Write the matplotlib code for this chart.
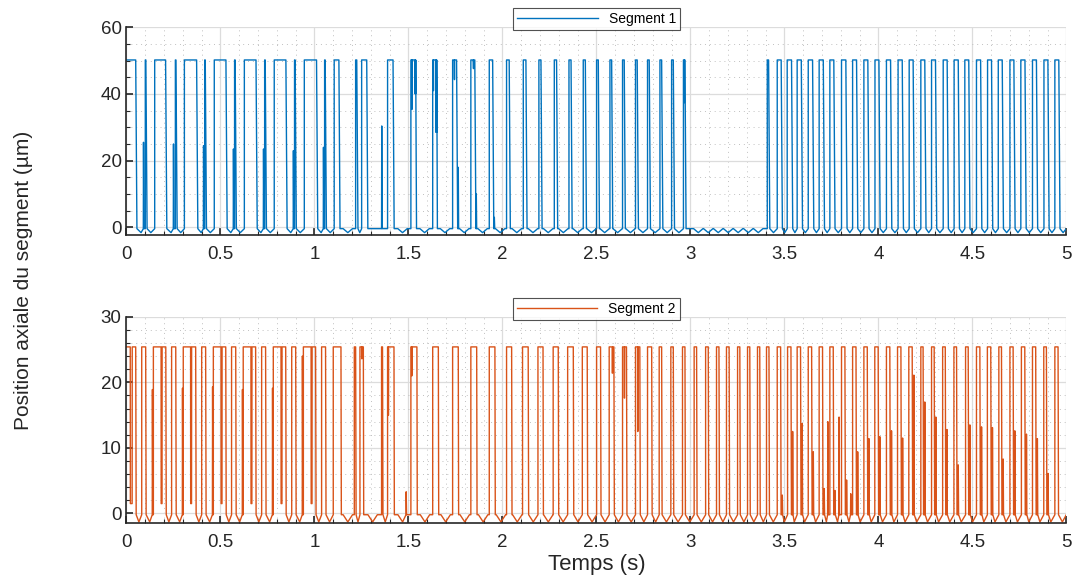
import numpy as np
import matplotlib.pyplot as plt
from matplotlib.ticker import MultipleLocator

plt.rcParams['font.family'] = ['Liberation Sans', 'DejaVu Sans']

# ---- Segment 1 ----
seg1_on = [0.000, 0.100, 0.150, 0.260, 0.308, 0.416, 0.467, 0.575, 0.627, 0.735,
           0.786, 0.894, 0.946, 1.054, 1.105, 1.219, 1.251, 1.389, 1.513, 1.629,
           1.735, 1.832, 1.930, 2.022, 2.111, 2.194, 2.276, 2.354, 2.430, 2.501,
           2.572, 2.639, 2.708, 2.772, 2.838, 2.900, 2.963, 3.409, 3.462, 3.515,
           3.568, 3.627, 3.685, 3.742, 3.804, 3.863, 3.923, 3.982, 4.043, 4.105,
           4.164, 4.226, 4.283, 4.345, 4.403, 4.460, 4.522, 4.581, 4.638, 4.700,
           4.758, 4.820, 4.881, 4.939]
seg1_off = [0.049, 0.103, 0.208, 0.263, 0.373, 0.419, 0.529, 0.578, 0.689, 0.738,
            0.848, 0.897, 1.011, 1.057, 1.130, 1.225, 1.278, 1.418, 1.537, 1.648,
            1.756, 1.853, 1.948, 2.036, 2.125, 2.205, 2.288, 2.365, 2.441, 2.510,
            2.581, 2.648, 2.717, 2.781, 2.847, 2.909, 2.971, 3.416, 3.483, 3.538,
            3.590, 3.650, 3.707, 3.763, 3.827, 3.884, 3.944, 4.003, 4.065, 4.127,
            4.185, 4.247, 4.304, 4.366, 4.425, 4.481, 4.544, 4.602, 4.659, 4.721,
            4.780, 4.841, 4.902, 4.960]
seg1_spike_t = [0.0895, 0.249, 0.409, 0.568, 0.728, 0.887, 1.047, 1.357, 1.764, 1.860, 1.956]
seg1_spike_y = [25.5, 25.0, 24.5, 23.5, 23.5, 23.0, 24.0, 30.4, 18.0, 10.0, 3.0]
seg1_notch_t = [1.518, 1.535, 1.632, 1.646, 1.744, 1.845, 2.966]
seg1_notch_y = [35.4, 40.0, 41.0, 28.5, 44.3, 47.6, 37.4]
seg1_notch_w = [0.001, 0.003, 0.001, 0.004, 0.001, 0.001, 0.002]
seg1_quiet_dips = [3.042, 3.095, 3.148, 3.201, 3.254, 3.308, 3.361]

# ---- Segment 2 ----
seg2_on = [0.000, 0.081, 0.143, 0.240, 0.302, 0.400, 0.462, 0.559, 0.621, 0.719,
           0.781, 0.879, 0.941, 1.038, 1.100, 1.212, 1.242, 1.357, 1.389, 1.513,
           1.629, 1.735, 1.832, 1.930, 2.022, 2.107, 2.189, 2.270, 2.347, 2.425,
           2.501, 2.568, 2.639, 2.708, 2.772, 2.834, 2.896, 2.958, 3.020, 3.081,
           3.139, 3.192, 3.251, 3.304, 3.357, 3.405, 3.462, 3.517, 3.568, 3.627,
           3.685, 3.742, 3.804, 3.863, 3.923, 3.981, 4.043, 4.102, 4.162, 4.226,
           4.283, 4.342, 4.402, 4.464, 4.522, 4.580, 4.641, 4.700, 4.761, 4.820,
           4.880, 4.939]
seg2_off = [0.049, 0.102, 0.209, 0.262, 0.368, 0.421, 0.528, 0.581, 0.687, 0.740,
            0.847, 0.900, 1.006, 1.059, 1.141, 1.219, 1.260, 1.362, 1.423, 1.545,
            1.659, 1.765, 1.863, 1.960, 2.049, 2.137, 2.216, 2.297, 2.377, 2.451,
            2.522, 2.593, 2.660, 2.731, 2.794, 2.847, 2.909, 2.971, 3.033, 3.095,
            3.152, 3.206, 3.263, 3.316, 3.369, 3.418, 3.480, 3.535, 3.586, 3.645,
            3.703, 3.760, 3.822, 3.881, 3.941, 3.999, 4.061, 4.120, 4.180, 4.238,
            4.297, 4.356, 4.416, 4.478, 4.540, 4.598, 4.655, 4.717, 4.779, 4.837,
            4.894, 4.956]
seg2_spike_t = [0.137, 0.297, 0.457, 0.616, 0.776, 0.935, 1.487,
                3.488, 3.543, 3.594, 3.653, 3.711, 3.730, 3.768, 3.790, 3.830, 3.852,
                3.889, 3.949, 4.007, 4.069, 4.128, 4.188, 4.246, 4.305, 4.364, 4.424,
                4.486, 4.548, 4.606, 4.663, 4.725, 4.787, 4.845, 4.902]
seg2_spike_y = [18.9, 19.1, 19.3, 18.9, 19.1, 24.0, 3.3,
                2.8, 12.5, 13.7, 9.4, 3.8, 14.0, 3.5, 14.7, 5.1, 3.0,
                9.4, 11.4, 11.7, 12.6, 11.5, 21.1, 17.0, 14.7, 12.8, 7.4,
                13.5, 13.2, 13.1, 8.3, 12.6, 12.1, 11.4, 6.1]
seg2_notch_t = [0.020, 0.184, 0.341, 0.503, 0.662, 0.822, 0.982, 1.251, 1.392, 1.517,
                2.584, 2.648, 2.719]
seg2_notch_y = [1.5, 1.5, 1.5, 1.5, 1.5, 1.5, 1.5, 23.6, 15.0, 21.0, 21.4, 17.6, 12.5]
seg2_notch_w = [0.010, 0.005, 0.005, 0.005, 0.005, 0.005, 0.005, 0.002, 0.002, 0.002,
                0.002, 0.002, 0.002]


def waveform(on, off, high, low, dip, fall, sp_t, sp_y, nt_t, nt_y, nt_w, quiet=()):
    pts = []
    for a, b in zip(on, off):
        pts += [(a, low), (a, high), (b, high), (b + fall, low)]
    if on[0] == 0:
        pts = pts[1:]
    gaps = list(zip([b + fall for b in off[:-1]], on[1:])) + [(off[-1] + fall, 5.0)]
    for g0, g1 in gaps:
        if g1 - g0 < 0.1:
            w = min(0.025, (g1 - g0) / 2 - 0.0005)
            m = (g0 + g1) / 2
            pts += [(m - w, low), (m, dip), (m + w, low)]
    for t in quiet:
        pts += [(t - 0.025, low), (t, dip), (t + 0.025, low)]
    for t, y in zip(sp_t, sp_y):
        pts += [(t, low), (t + 0.001, y), (t + 0.003, low)]
    for t, y, w in zip(nt_t, nt_y, nt_w):
        pts += [(t, high), (t + 0.0005, y), (t + w, y), (t + w + 0.0005, high)]
    pts.append((5.0, low))
    pts.sort(key=lambda p: p[0])
    return np.array([p[0] for p in pts]), np.array([p[1] for p in pts])


t1, y1 = waveform(seg1_on, seg1_off, 50.2, -0.4, -1.6, 0.006,
                  seg1_spike_t, seg1_spike_y, seg1_notch_t, seg1_notch_y, seg1_notch_w,
                  seg1_quiet_dips)
t2, y2 = waveform(seg2_on, seg2_off, 25.4, -0.2, -1.3, 0.002,
                  seg2_spike_t, seg2_spike_y, seg2_notch_t, seg2_notch_y, seg2_notch_w)

fig = plt.figure(figsize=(10.72, 5.87), dpi=100)
ax1 = fig.add_axes([0.118, 0.5997, 0.8767, 0.3538])
ax2 = fig.add_axes([0.118, 0.1095, 0.8767, 0.3509])

ax1.plot(t1, y1, color="#0072BD", lw=1.0, label="Segment 1")
ax2.plot(t2, y2, color="#D95319", lw=1.0, label="Segment 2")

for ax, ylim, ymaj, ymin in [(ax1, (-2.3, 60), 20, 5), (ax2, (-1.42, 30), 10, 2)]:
    ax.set_xlim(0, 5)
    ax.set_ylim(*ylim)
    ax.xaxis.set_major_locator(MultipleLocator(0.5))
    ax.xaxis.set_minor_locator(MultipleLocator(0.1))
    ax.yaxis.set_major_locator(MultipleLocator(ymaj))
    ax.yaxis.set_minor_locator(MultipleLocator(ymin))
    ax.set_xticks(np.arange(0, 5.01, 0.5))
    ax.set_xticklabels(["0", "0.5", "1", "1.5", "2", "2.5", "3", "3.5", "4", "4.5", "5"])
    ax.grid(which="major", color="#dcdcdc", lw=0.9)
    ax.grid(which="minor", color="#c0c0c0", lw=0.7, linestyle=(0, (1, 4)))
    ax.set_axisbelow(True)
    for s in ["top", "right"]:
        ax.spines[s].set_visible(False)
    for s in ["left", "bottom"]:
        ax.spines[s].set_color("#262626")
        ax.spines[s].set_linewidth(1.2)
    ax.tick_params(which="both", direction="in", colors="#262626", labelsize=13.5)
    ax.tick_params(which="major", length=5, width=1.2)
    ax.tick_params(which="minor", length=3, width=0.8)
    ax.tick_params(axis="x", pad=8)
    leg = ax.legend(loc="lower center", bbox_to_anchor=(0.5, 0.985), fontsize=10,
                    handlelength=5.8, frameon=True, fancybox=False, borderaxespad=0,
                    borderpad=0.3)
    leg.get_frame().set_edgecolor("#262626")
    leg.get_frame().set_linewidth(0.8)

ax2.set_xlabel("Temps (s)", fontsize=16, color="#262626", labelpad=2)
fig.text(0.022, 0.523, "Position axiale du segment (µm)", rotation=90,
         ha="center", va="center", fontsize=15, color="#262626")

fig.savefig("out.png", dpi=100)
